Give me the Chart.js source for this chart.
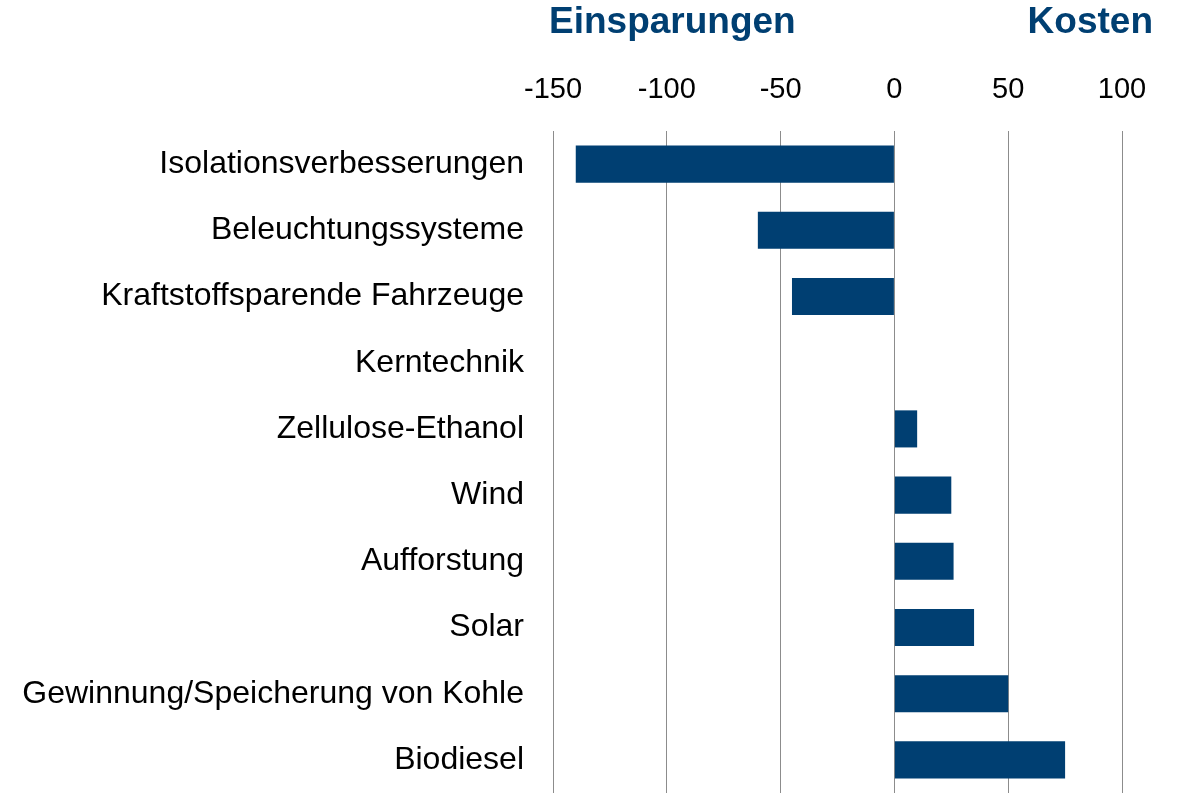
<!DOCTYPE html>
<html>
<head>
<meta charset="utf-8">
<script src="https://cdn.jsdelivr.net/npm/chart.js@4"></script>
<style>
  html, body { margin: 0; padding: 0; background: #fff; }
  #wrap { position: relative; width: 1179px; height: 793px; }
  canvas { display: block; }
  .head {
    position: absolute;
    top: 0px;
    font-family: "Liberation Sans", Arial, sans-serif;
    font-weight: bold;
    font-size: 37px;
    color: #003f72;
    line-height: 42px;
  }
</style>
</head>
<body>
<div id="wrap">
  <canvas id="chart" width="1179" height="793"></canvas>
  <div class="head" style="left: 549px;">Einsparungen</div>
  <div class="head" style="right: 26px;">Kosten</div>
</div>
<script>
const categories = [
  "Isolationsverbesserungen",
  "Beleuchtungssysteme",
  "Kraftstoffsparende Fahrzeuge",
  "Kerntechnik",
  "Zellulose-Ethanol",
  "Wind",
  "Aufforstung",
  "Solar",
  "Gewinnung/Speicherung von Kohle",
  "Biodiesel",
];
const values = [-140, -60, -45, 0, 10, 25, 26, 35, 50, 75];
const xTicks = [-150, -100, -50, 0, 50, 100];

const font = "'Liberation Sans', Arial, sans-serif";

new Chart(document.getElementById("chart"), {
  type: "bar",
  data: {
    labels: categories,
    datasets: [
      {
        data: values,
        backgroundColor: "#003f72",
        borderWidth: 0,
        categoryPercentage: 1,
        barPercentage: 0.56,
      },
    ],
  },
  options: {
    indexAxis: "y",
    responsive: false,
    animation: false,
    layout: { padding: { left: 0, right: 57, top: 0, bottom: 0 } },
    plugins: { legend: { display: false }, tooltip: { enabled: false } },
    scales: {
      x: {
        position: "top",
        min: -150,
        max: 100,
        afterBuildTicks: (axis) => {
          axis.ticks = xTicks.map((v) => ({ value: v }));
        },
        afterFit: (axis) => {
          axis.height = 131;
          axis.paddingLeft = 0;
          axis.paddingRight = 0;
        },
        grid: { color: "#8c8c8c", lineWidth: 1, drawTicks: false },
        border: { display: false },
        ticks: {
          color: "#000",
          padding: 24,
          font: { family: font, size: 29 },
        },
      },
      y: {
        afterFit: (axis) => {
          axis.width = 553;
          axis.paddingTop = 0;
          axis.paddingBottom = 0;
        },
        grid: { display: false, drawTicks: false },
        border: { display: false },
        ticks: {
          color: "#000",
          padding: 29,
          font: { family: font, size: 32 },
        },
      },
    },
  },
});
</script>
</body>
</html>
